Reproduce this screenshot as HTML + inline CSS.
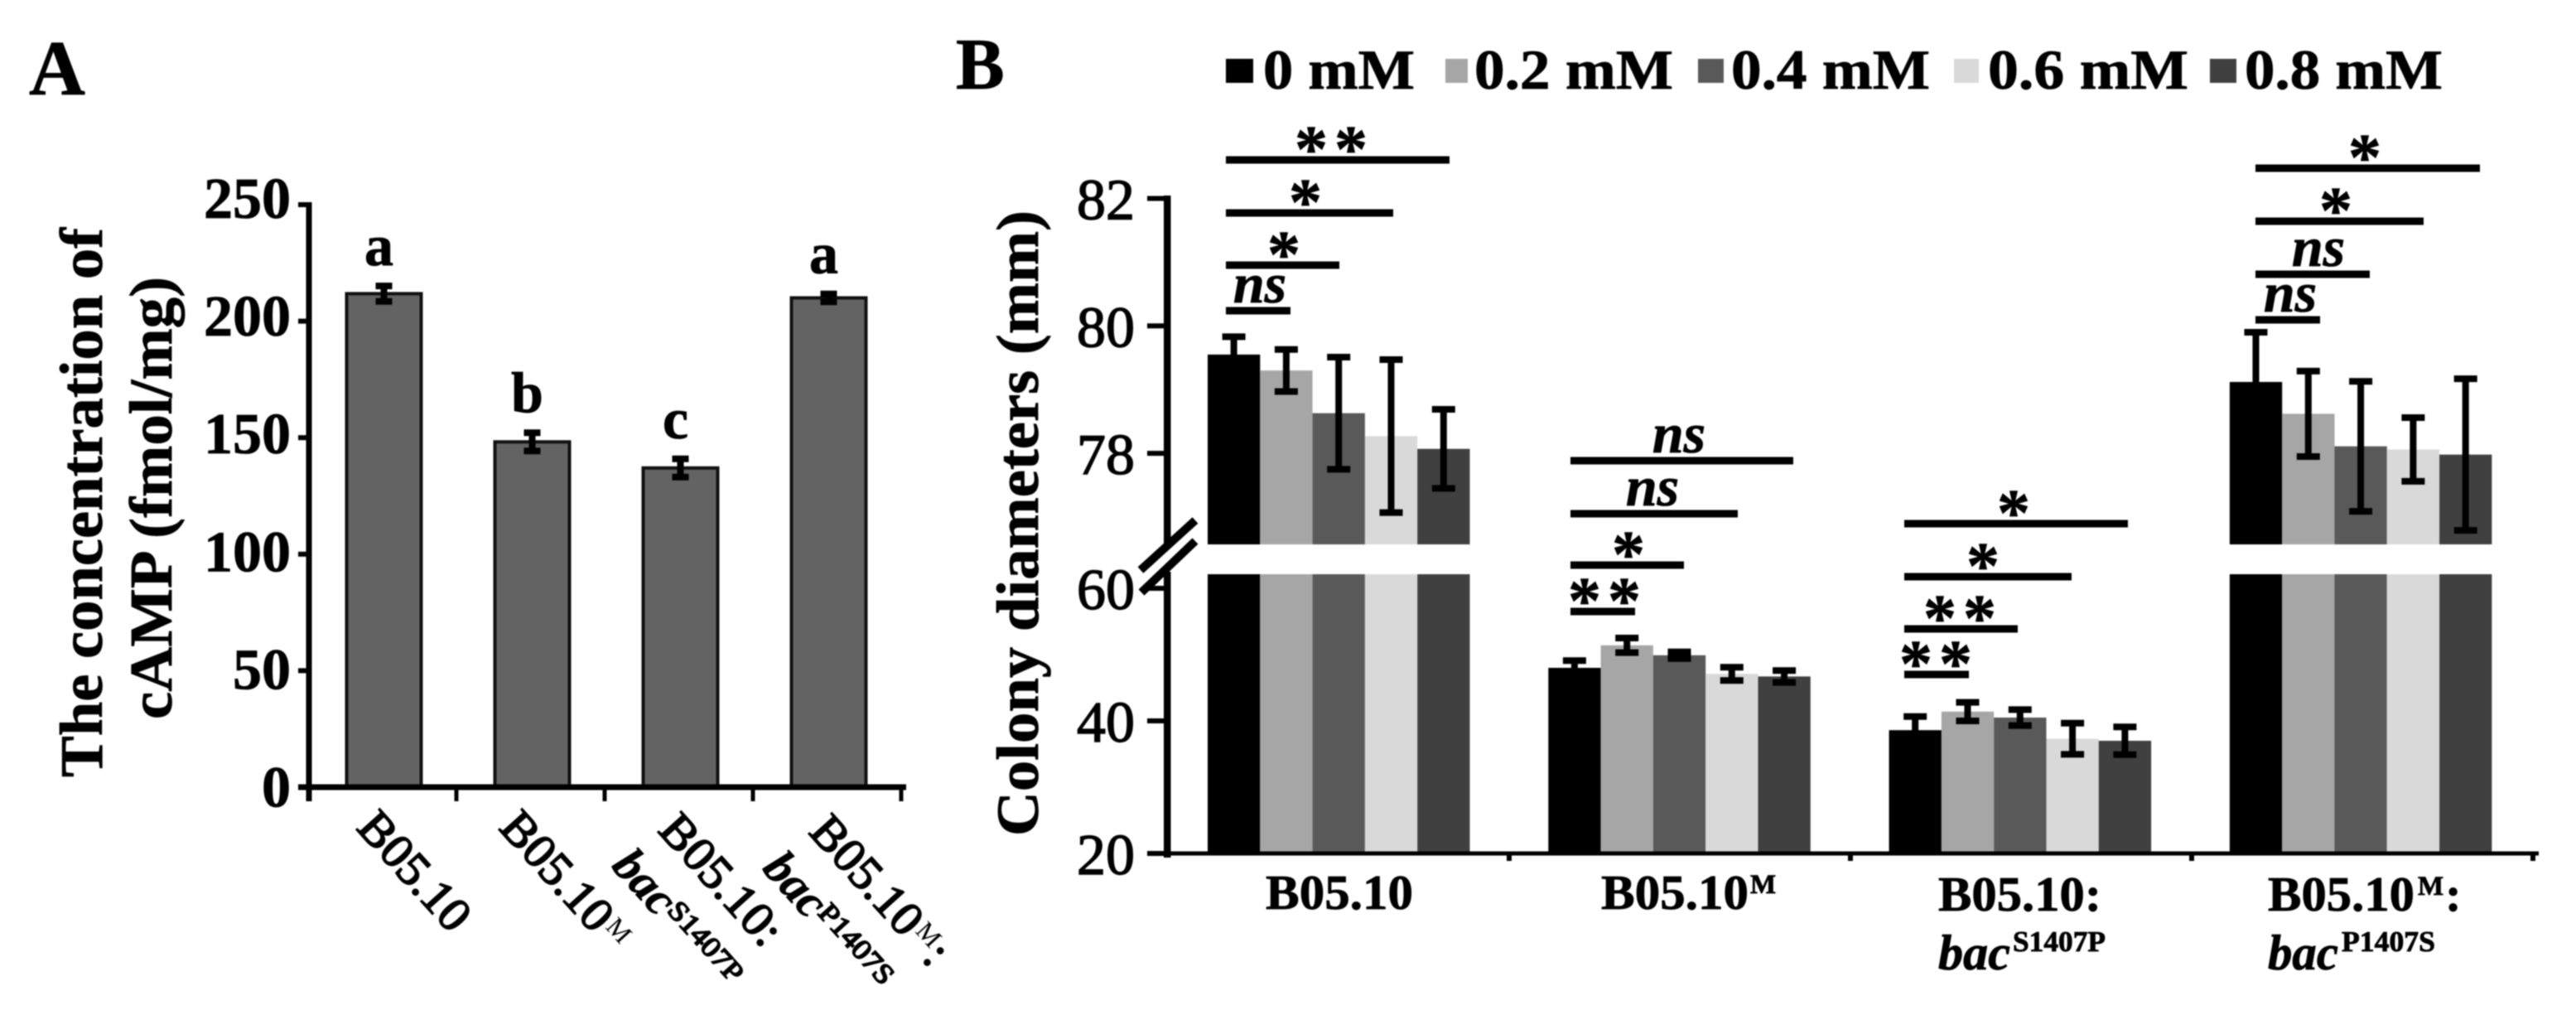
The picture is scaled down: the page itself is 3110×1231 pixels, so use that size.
<!DOCTYPE html>
<html lang="en">
<head>
<meta charset="utf-8">
<title>cAMP concentration and colony diameters</title>
<style>
html,body{margin:0;padding:0;background:#fff;width:3110px;height:1231px;overflow:hidden}
svg{display:block;filter:blur(0.9px)}
text{font-family:"Liberation Serif",serif;fill:#000}
.b{font-weight:bold;stroke:#000;stroke-width:0.8px}
.bi{font-weight:bold;font-style:italic;stroke:#000;stroke-width:0.8px}
.r{stroke:#000;stroke-width:1.8px}
</style>
</head>
<body>
<svg id="figure" xmlns="http://www.w3.org/2000/svg" width="3110" height="1231" viewBox="0 0 3110 1231">
<rect width="3110" height="1231" fill="#fff"/>

<text class="b" x="35" y="114" font-size="94">A</text>
<text class="b" x="1154" y="107" font-size="88">B</text>

<g>
<text class="b" transform="translate(123,938) rotate(-90)" font-size="73" textLength="663" lengthAdjust="spacingAndGlyphs">The concentration of</text>
<text class="b" transform="translate(207,868) rotate(-90)" font-size="73" textLength="534" lengthAdjust="spacingAndGlyphs">cAMP (fmol/mg)</text>
</g>

<g id="panelA"></g>

<g>
<text class="r" transform="translate(429,1000) rotate(48)" font-size="58" textLength="172" lengthAdjust="spacingAndGlyphs">B05.10</text>
<g transform="translate(601,1000) rotate(48)">
<text class="r" font-size="58" textLength="172" lengthAdjust="spacingAndGlyphs">B05.10</text>
<text x="175" y="-16" font-size="32">M</text>
</g>
<g>
<text class="r" transform="translate(793,1003) rotate(48)" font-size="58" textLength="192" lengthAdjust="spacingAndGlyphs">B05.10:</text>
<g transform="translate(737,1046) rotate(48)">
<text class="bi" font-size="58">bac</text>
<text class="r" x="85" y="-14" font-size="34" textLength="118" lengthAdjust="spacingAndGlyphs">S1407P</text>
</g>
</g>
<g>
<g transform="translate(975,1005) rotate(48)">
<text class="r" font-size="58" textLength="172" lengthAdjust="spacingAndGlyphs">B05.10</text>
<text x="175" y="-16" font-size="32">M</text>
<text class="r" x="205" font-size="58">:</text>
</g>
<g transform="translate(919,1049) rotate(48)">
<text class="bi" font-size="58">bac</text>
<text class="r" x="85" y="-14" font-size="34" textLength="118" lengthAdjust="spacingAndGlyphs">P1407S</text>
</g>
</g>
</g>

<g>
<g>
<rect x="1480" y="71" width="33" height="29" fill="#000"/>
<text class="b" x="1525" y="107" font-size="68" textLength="183" lengthAdjust="spacingAndGlyphs">0 mM</text>
</g>
<g>
<rect x="1745" y="71" width="27" height="29" fill="#a6a6a6"/>
<text class="b" x="1780" y="107" font-size="68" textLength="240" lengthAdjust="spacingAndGlyphs">0.2 mM</text>
</g>
<g>
<rect x="2050" y="71" width="31" height="29" fill="#595959"/>
<text class="b" x="2090" y="107" font-size="68" textLength="240" lengthAdjust="spacingAndGlyphs">0.4 mM</text>
</g>
<g>
<rect x="2359" y="71" width="30" height="29" fill="#d9d9d9"/>
<text class="b" x="2400" y="107" font-size="68" textLength="242" lengthAdjust="spacingAndGlyphs">0.6 mM</text>
</g>
<g>
<rect x="2668" y="71" width="32" height="29" fill="#404040"/>
<text class="b" x="2710" y="107" font-size="68" textLength="239" lengthAdjust="spacingAndGlyphs">0.8 mM</text>
</g>
</g>

<text class="b" transform="translate(1253,1009) rotate(-90)" font-size="72" textLength="755" lengthAdjust="spacingAndGlyphs">Colony diameters (mm)</text>

<g id="panelB"></g>

<g>
<text class="b" x="1528" y="1097" font-size="59" textLength="178" lengthAdjust="spacingAndGlyphs">B05.10</text>
<g>
<text class="b" x="1933" y="1097" font-size="59" textLength="178" lengthAdjust="spacingAndGlyphs">B05.10</text>
<text class="b" x="2113" y="1078" font-size="33">M</text>
</g>
<g>
<text class="b" x="2340" y="1099" font-size="59" textLength="197" lengthAdjust="spacingAndGlyphs">B05.10:</text>
<text class="bi" x="2340" y="1170" font-size="60" textLength="87" lengthAdjust="spacingAndGlyphs">bac</text>
<text class="b" x="2430" y="1148" font-size="35" textLength="112" lengthAdjust="spacingAndGlyphs">S1407P</text>
</g>
<g>
<text class="b" x="2738" y="1099" font-size="59" textLength="177" lengthAdjust="spacingAndGlyphs">B05.10</text>
<text class="b" x="2919" y="1080" font-size="33">M</text>
<text class="b" x="2952" y="1099" font-size="59">:</text>
<text class="bi" x="2738" y="1170" font-size="60" textLength="85" lengthAdjust="spacingAndGlyphs">bac</text>
<text class="b" x="2827" y="1148" font-size="35" textLength="113" lengthAdjust="spacingAndGlyphs">P1407S</text>
</g>
</g>
</svg>

<script>
// Panel A data
const aCategories = ['B05.10', 'B05.10M', 'B05.10:bacS1407P', 'B05.10M:bacP1407S'];
const aValues = [211.8, 148.2, 137, 210];
const aErrors = [3.3, 3.9, 3.9, 1.7];
const aLetters = ['a', 'b', 'c', 'a'];
const aTicks = [0, 50, 100, 150, 200, 250];

// Panel B data
const bCategories = ['B05.10', 'B05.10M', 'B05.10:bacS1407P', 'B05.10M:bacP1407S'];
const bDoses = ['0 mM', '0.2 mM', '0.4 mM', '0.6 mM', '0.8 mM'];
const bDoseColors = ['#000000', '#a6a6a6', '#595959', '#d9d9d9', '#404040'];
const bDose0 = [79.55, 48, 38.6, 79.12];
const bDose02 = [79.3, 51.4, 41.4, 78.62];
const bDose04 = [78.63, 49.9, 40.5, 78.11];
const bDose06 = [78.27, 47.1, 37.3, 78.06];
const bDose08 = [78.07, 46.7, 37, 77.98];
const bErr0 = [0.28, 1.1, 2.06, 0.78];
const bErr02 = [0.33, 1.1, 1.4, 0.67];
const bErr04 = [0.88, 0.5, 1.2, 1.02];
const bErr06 = [1.2, 1, 2.35, 0.5];
const bErr08 = [0.62, 0.9, 2.1, 1.19];
const bTicks = [20, 40, 60, 78, 80, 82];
// Significance marks, nearest-the-bars first, per strain; the bracket spans from dose 0 to the named dose
const bSig1 = ['ns', '*', '*', '**'];
const bSig2 = ['**', '*', 'ns', 'ns'];
const bSig3 = ['**', '**', '*', '*'];
const bSig4 = ['ns', 'ns', '*', '*'];

const NS = 'http://www.w3.org/2000/svg';
function make(parent, tag, attrs, txt) {
  const el = document.createElementNS(NS, tag);
  for (const k in attrs) el.setAttribute(k, attrs[k]);
  if (txt !== undefined) el.textContent = txt;
  parent.appendChild(el);
  return el;
}

// ---------- Panel A ----------
const A = document.getElementById('panelA');
const yA = v => 950 - v * 2.812;
const xA = i => 374 + 179 * (i + 0.5);
let node;

aCategories.forEach((c, i) => {
  const cx = xA(i);
  node = make(A, 'rect', {x: cx - 45, y: yA(aValues[i]), width: 90, height: 950 - yA(aValues[i]), fill: '#636363', stroke: '#111', 'stroke-width': 4});
  
  
  node = make(A, 'path', {d: `M${cx} ${yA(aValues[i] + aErrors[i])}V${yA(aValues[i] - aErrors[i])}M${cx - 10} ${yA(aValues[i] + aErrors[i])}h20M${cx - 10} ${yA(aValues[i] - aErrors[i])}h20`, stroke: '#000', 'stroke-width': 8, fill: 'none'});
  
  
  node = make(A, 'text', {x: cx - 6, y: yA(aValues[i] + aErrors[i]) - 25, 'text-anchor': 'middle', 'font-size': 70, 'font-weight': 'bold', stroke: '#000', 'stroke-width': 0.8}, aLetters[i]);
  
  
  node = make(A, 'rect', {x: 372 + 179 * (i + 1) - 2.5, y: 950, width: 5, height: 17, fill: '#000'});
  
  
});
node = make(A, 'rect', {x: 369.5, y: yA(250) - 3, width: 7, height: 950 - yA(250) + 20, fill: '#000'});


node = make(A, 'rect', {x: 360, y: 946.5, width: 734, height: 7, fill: '#000'});


aTicks.forEach(t => {
  node = make(A, 'rect', {x: 360, y: yA(t) - 3, width: 12, height: 6, fill: '#000'});
  
  
  node = make(A, 'text', {x: 351, y: yA(t) + 23.5 - 7.5 * t / 250, 'text-anchor': 'end', 'font-size': 70, 'font-weight': 'bold', stroke: '#000', 'stroke-width': 0.8}, String(t));
  
  
});

// ---------- Panel B ----------
const B = document.getElementById('panelB');
const upperY = v => 239.5 + (82 - v) * 76.9;
const lowerY = v => 1030 - (v - 20) * 8;
const yB = v => (v > 65 ? upperY(v) : lowerY(v));
const xB = (g, s) => 1458 + g * 411.3 + s * 63.3;
const BREAK_TOP = 657, BREAK_BOTTOM = 693;
const bSeries = [bDose0, bDose02, bDose04, bDose06, bDose08];
const bErrSeries = [bErr0, bErr02, bErr04, bErr06, bErr08];
const bSigGroups = [bSig1, bSig2, bSig3, bSig4];

node = make(B, 'rect', {x: 1405, y: 236, width: 8.5, height: 420, fill: '#000'});


node = make(B, 'rect', {x: 1405, y: 690, width: 8.5, height: 345, fill: '#000'});



bSeries.forEach((vals, s) => {
  vals.forEach((v, g) => {
    const x = xB(g, s), w = 63.3, color = bDoseColors[s];
    if (v > 65) {
      node = make(B, 'rect', {x, y: BREAK_BOTTOM, width: w, height: 1030 - BREAK_BOTTOM, fill: color});
      
      
      node = make(B, 'rect', {x, y: yB(v), width: w, height: BREAK_TOP - yB(v), fill: color});
      
      
    } else {
      node = make(B, 'rect', {x, y: yB(v), width: w, height: 1030 - yB(v), fill: color});
      
      
    }
  });
});
bSeries.forEach((vals, s) => {
  vals.forEach((v, g) => {
    const cx = xB(g, s) + 31.6, e = bErrSeries[s][g];
    const t = yB(v + e), b = yB(v - e);
    node = make(B, 'path', {d: `M${cx} ${t}V${b}M${cx - 14} ${t}h28M${cx - 14} ${b}h28`, stroke: '#000', 'stroke-width': 8, fill: 'none'});
    
    
  });
});

bTicks.forEach(t => {
  node = make(B, 'rect', {x: 1385, y: yB(t) - 3, width: 22, height: 6, fill: '#000'});
  
  
  node = make(B, 'text', {x: 1370, y: yB(t) + 25, 'text-anchor': 'end', 'font-size': 70, stroke: '#000', 'stroke-width': 1.4}, String(t));
  
  
});

node = make(B, 'rect', {x: 1385, y: 1027.5, width: 1680, height: 5, fill: '#000'});


bCategories.forEach((c, g) => {
  node = make(B, 'rect', {x: 1822 + g * 412 - 3, y: 1030, width: 6, height: 9, fill: '#000'});
  
  
});

// axis break slashes
node = make(B, 'path', {d: 'M1377 688L1443 628', stroke: '#000', 'stroke-width': 10, fill: 'none'});


node = make(B, 'path', {d: 'M1378 715L1443 653', stroke: '#000', 'stroke-width': 10, fill: 'none'});



// significance brackets: placement per strain
const sigStartX = [1480, 1896, 2299, 2723];
const sigLineY = [
  [375, 320, 257, 193],
  [738, 682, 620, 556],
  [814, 759, 696, 632],
  [386, 331, 267, 203]
];
const sigEndX = [
  [1558, 1617, 1682, 1750],
  [1974, 2033, 2098, 2165],
  [2377, 2436, 2501, 2569],
  [2801, 2861, 2926, 2994]
];
const sigTextX = [
  [1521, 1550, 1576, 1611],
  [1941, 1966, 1995, 2027],
  [2341, 2370, 2394, 2431],
  [2765, 2799, 2820, 2855]
];
bSigGroups.forEach((marks, g) => {
  marks.forEach((m, k) => {
    const ly = sigLineY[g][k];
    node = make(B, 'rect', {x: sigStartX[g], y: ly - 4.5, width: sigEndX[g][k] - sigStartX[g], height: 9, fill: '#000'});
    
    
    const isNs = m === 'ns';
    const attrs = {x: sigTextX[g][k], y: isNs ? ly - 10 : ly + 14, 'text-anchor': 'middle', 'font-size': isNs ? 68 : 80, 'font-weight': 'bold', stroke: '#000', 'stroke-width': 0.8};
    if (isNs) attrs['font-style'] = 'italic';
    if (m === '**') attrs['letter-spacing'] = 8;
    node = make(B, 'text', attrs, m);
    
    
  });
});
</script>
</body>
</html>
